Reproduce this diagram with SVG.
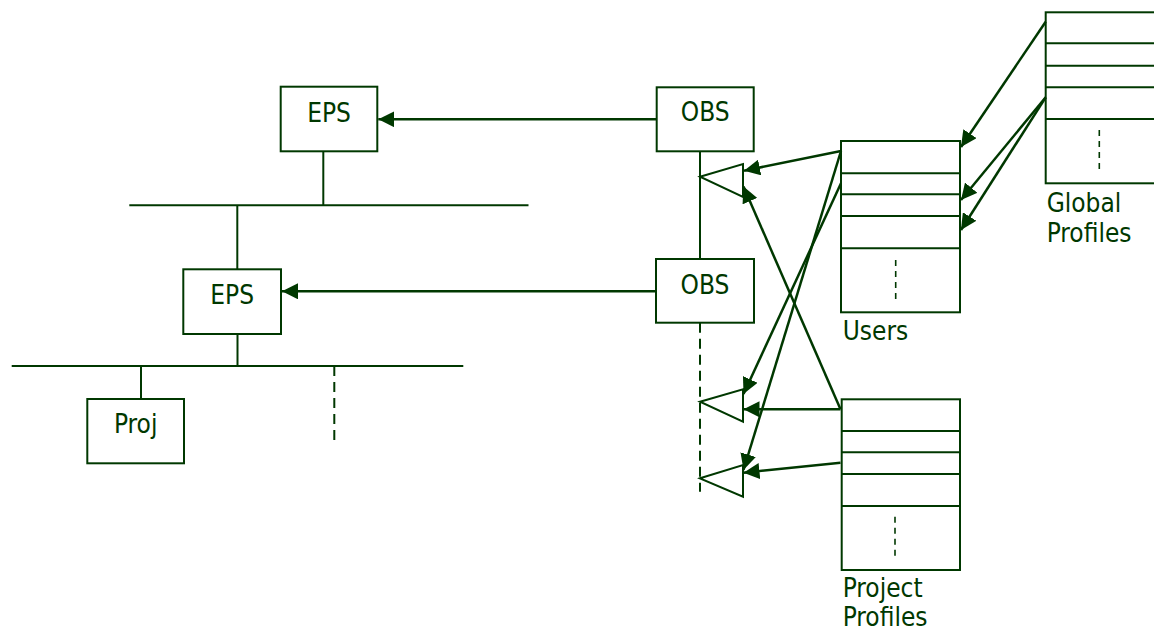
<svg xmlns="http://www.w3.org/2000/svg" width="1154" height="631" viewBox="0 0 1154 631">
<style>
  .box{fill:#fff;stroke:#003800;stroke-width:2}
  .ln{fill:none;stroke:#003800;stroke-width:2}
  .dash{fill:none;stroke:#003800;stroke-width:2;stroke-dasharray:10,6}
  .dot{fill:none;stroke:#003800;stroke-width:1.6;stroke-dasharray:6,5}
  .arr{fill:none;stroke:#003800;stroke-width:2.5;marker-end:url(#ah)}
  .tri{fill:#fff;stroke:#003800;stroke-width:2}
  text{font-family:"DejaVu Sans Condensed","DejaVu Sans",sans-serif;font-stretch:condensed;font-size:26px;fill:#003800}
  .c{text-anchor:middle}
</style>
<defs>
  <marker id="ah" markerUnits="userSpaceOnUse" markerWidth="16" markerHeight="16" viewBox="0 0 15 15" refX="15" refY="7.5" orient="auto">
    <path d="M0,0 L15,7.5 L0,15 z" fill="#003800"/>
  </marker>
</defs>

<g id="tree-lines">
  <line class="ln" x1="323.3" y1="151.3" x2="323.3" y2="205.3"/>
  <line class="ln" x1="129.3" y1="205.3" x2="528.5" y2="205.3"/>
  <line class="ln" x1="237.3" y1="205.3" x2="237.3" y2="269.3"/>
  <line class="ln" x1="237.5" y1="334" x2="237.5" y2="366"/>
  <line class="ln" x1="11.7" y1="366" x2="463.3" y2="366"/>
  <line class="ln" x1="141" y1="366" x2="141" y2="399"/>
  <line class="dash" x1="334.3" y1="366" x2="334.3" y2="442.7"/>
  <line class="ln" x1="700" y1="151.3" x2="700" y2="259"/>
  <line class="dash" x1="700" y1="322.7" x2="700" y2="491.7"/>
</g>

<g id="eps1">
  <rect class="box" x="280.7" y="86.7" width="96.6" height="64.6"/>
  <text class="c" x="329" y="121.7">EPS</text>
</g>
<g id="eps2">
  <rect class="box" x="183.3" y="269.3" width="97.7" height="64.7"/>
  <text class="c" x="232.2" y="304">EPS</text>
</g>
<g id="proj">
  <rect class="box" x="87.3" y="399" width="96.7" height="64.3"/>
  <text class="c" x="135.7" y="432.7">Proj</text>
</g>
<g id="obs1">
  <rect class="box" x="656.7" y="87.3" width="97" height="64"/>
  <text class="c" x="705.2" y="121">OBS</text>
</g>
<g id="obs2">
  <rect class="box" x="656" y="259" width="98" height="63.7"/>
  <text class="c" x="705" y="294">OBS</text>
</g>

<g id="triangles">
  <polygon class="tri" points="700,176.7 743,164 743,197"/>
  <polygon class="tri" points="700,401.7 743,389.3 743,421.7"/>
  <polygon class="tri" points="700,478.3 743,465 743,496.7"/>
</g>

<g id="users">
  <rect class="box" x="841" y="141" width="119" height="171.3"/>
  <line class="ln" x1="841" y1="173.3" x2="960" y2="173.3"/>
  <line class="ln" x1="841" y1="194.3" x2="960" y2="194.3"/>
  <line class="ln" x1="841" y1="216" x2="960" y2="216"/>
  <line class="ln" x1="841" y1="248.3" x2="960" y2="248.3"/>
  <line class="dot" x1="895.7" y1="260" x2="895.7" y2="302"/>
  <text x="842.7" y="340">Users</text>
</g>

<g id="project-profiles">
  <rect class="box" x="841.7" y="399.3" width="118.3" height="170.7"/>
  <line class="ln" x1="841.7" y1="431" x2="960" y2="431"/>
  <line class="ln" x1="841.7" y1="452.3" x2="960" y2="452.3"/>
  <line class="ln" x1="841.7" y1="474" x2="960" y2="474"/>
  <line class="ln" x1="841.7" y1="506" x2="960" y2="506"/>
  <line class="dot" x1="895" y1="516.7" x2="895" y2="560"/>
  <text x="842.7" y="596.5">Project</text>
  <text x="842.7" y="625.5">Profiles</text>
</g>

<g id="global-profiles">
  <rect class="box" x="1045.7" y="12.3" width="119" height="171"/>
  <line class="ln" x1="1045.7" y1="43.3" x2="1165" y2="43.3"/>
  <line class="ln" x1="1045.7" y1="65.7" x2="1165" y2="65.7"/>
  <line class="ln" x1="1045.7" y1="87.3" x2="1165" y2="87.3"/>
  <line class="ln" x1="1045.7" y1="119" x2="1165" y2="119"/>
  <line class="dot" x1="1099.3" y1="130" x2="1099.3" y2="173"/>
  <text x="1046.7" y="211.7">Global</text>
  <text x="1046.7" y="241.7">Profiles</text>
</g>

<g id="connectors">
  <line class="arr" x1="656.7" y1="119.3" x2="378.3" y2="119.3"/>
  <line class="arr" x1="656" y1="291.3" x2="282" y2="291.3"/>
  <line class="arr" x1="841" y1="151" x2="744" y2="170.7"/>
  <line class="arr" x1="840.5" y1="409.3" x2="743.5" y2="186.5"/>
  <line class="arr" x1="841" y1="183.3" x2="743.5" y2="394"/>
  <line class="arr" x1="840.5" y1="409.3" x2="743.5" y2="409.3"/>
  <line class="arr" x1="841" y1="151" x2="743.5" y2="470"/>
  <line class="arr" x1="840.5" y1="462.7" x2="743.5" y2="472.7"/>
  <line class="arr" x1="1045.7" y1="21.7" x2="961" y2="147"/>
  <line class="arr" x1="1045.7" y1="97.3" x2="961" y2="200"/>
  <line class="arr" x1="1045.7" y1="97.3" x2="961" y2="230"/>
</g>
</svg>
